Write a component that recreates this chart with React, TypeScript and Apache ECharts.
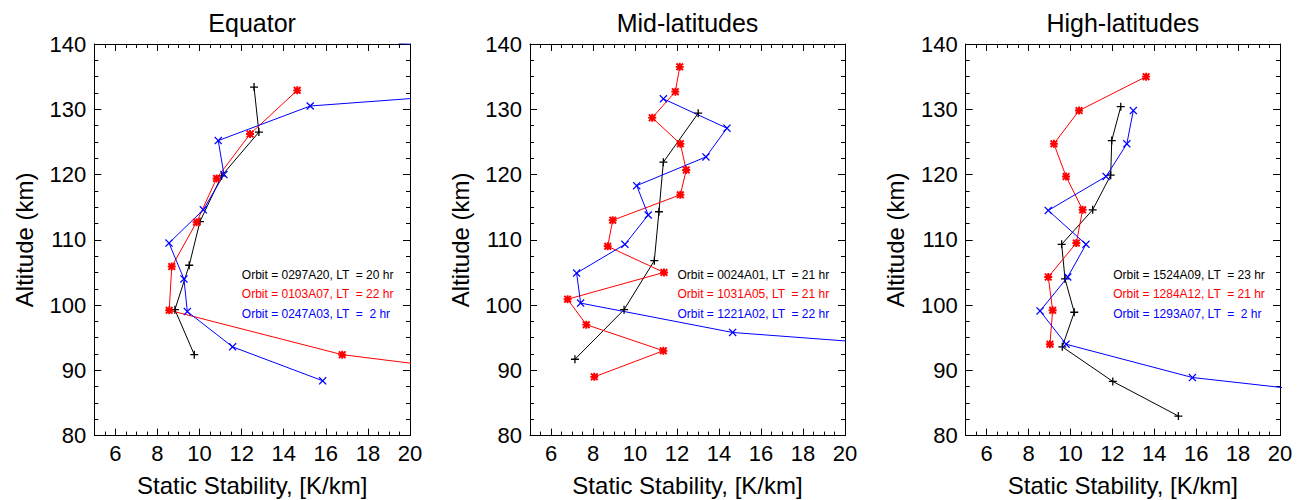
import React, { useEffect, useRef } from 'react';
import * as echarts from 'echarts';

const FONT = '"Liberation Sans", Arial, Helvetica, sans-serif';

// ---- text / ticks ----
const panelTitles = ['Equator', 'Mid-latitudes', 'High-latitudes'];
const xAxisTitle = 'Static Stability, [K/km]';
const yAxisTitle = 'Altitude (km)';
const xTickLabels = [6, 8, 10, 12, 14, 16, 18, 20];
const xRange = [5, 20];
const yRange = [80, 140];
const yStep = 10;

// ---- legend labels ----
const eqLabels = ['Orbit = 0297A20, LT  = 20 hr', 'Orbit = 0103A07, LT  = 22 hr', 'Orbit = 0247A03, LT  =  2 hr'];
const midLabels = ['Orbit = 0024A01, LT  = 21 hr', 'Orbit = 1031A05, LT  = 21 hr', 'Orbit = 1221A02, LT  = 22 hr'];
const hiLabels = ['Orbit = 1524A09, LT  = 23 hr', 'Orbit = 1284A12, LT  = 21 hr', 'Orbit = 1293A07, LT  =  2 hr'];

// ---- data: [static stability K/km, altitude km] ----
const eqBlack = [[12.59, 133.4], [12.82, 126.5], [11.05, 119.8], [10.02, 112.8], [9.51, 106.1], [8.83, 99.3], [9.75, 92.4]];
const eqRed = [[14.64, 132.9], [12.4, 126.2], [10.81, 119.4], [9.86, 112.7], [8.68, 105.9], [8.56, 99.2], [16.78, 92.4], [24.0, 89.5]];
const eqBlue = [[19.45, 140.1], [40.0, 136.4], [15.26, 130.5], [10.89, 125.2], [11.16, 120.0], [10.18, 114.6], [8.55, 109.5], [9.26, 104.0], [9.42, 99.0], [11.57, 93.6], [15.85, 88.4]];

const midBlack = [[13.01, 129.4], [11.35, 121.9], [11.14, 114.3], [10.92, 106.8], [9.48, 99.3], [7.14, 91.7]];
const midRed = [[12.13, 136.5], [11.92, 132.7], [10.82, 128.7], [12.16, 124.7], [12.44, 120.7], [12.16, 116.9], [8.94, 113.0], [8.7, 109.0], [11.38, 105.0], [6.79, 100.9], [7.68, 97.0], [11.35, 93.0], [8.06, 89.0]];
const midBlue = [[11.35, 131.6], [14.38, 127.1], [13.38, 122.7], [10.08, 118.3], [10.63, 113.8], [9.52, 109.3], [7.22, 104.9], [7.41, 100.3], [14.65, 95.8], [25.0, 93.3]];

const hiBlack = [[12.4, 130.4], [11.97, 125.2], [11.92, 119.9], [11.06, 114.6], [9.58, 109.3], [9.74, 104.0], [10.18, 98.9], [9.61, 93.6], [12.02, 88.3], [15.15, 83.0]];
const hiRed = [[13.61, 135.0], [10.41, 129.8], [9.21, 124.7], [9.79, 119.7], [10.58, 114.6], [10.28, 109.5], [8.94, 104.3], [9.15, 99.2], [9.02, 94.0]];
const hiBlue = [[13.0, 129.8], [12.69, 124.7], [11.7, 119.7], [8.94, 114.5], [10.74, 109.3], [9.87, 104.3], [8.55, 99.1], [9.79, 94.0], [15.82, 88.9], [25.0, 85.6]];

const panels = [
  { black: eqBlack, red: eqRed, blue: eqBlue, labels: eqLabels },
  { black: midBlack, red: midRed, blue: midBlue, labels: midLabels },
  { black: hiBlack, red: hiRed, blue: hiBlue, labels: hiLabels },
];

// ---- layout ----
const gridLefts = [94.3, 530, 965.7];
const gridWidths = [315.7, 315, 314.3];
const gridTop = 44;
const gridHeight = 391.6;

const COLORS = { black: '#000000', red: '#ff0000', blue: '#0000ff' };

const PLUS = 'path://M4.2,0H5.8V4.2H10V5.8H5.8V10H4.2V5.8H0V4.2H4.2Z';
const CROSS = 'path://M0,1.1L1.1,0L5,3.9L8.9,0L10,1.1L6.1,5L10,8.9L8.9,10L5,6.1L1.1,10L0,8.9L3.9,5Z';
const STAR = 'path://M3.8,0H6.2V3.8H10V6.2H6.2V10H3.8V6.2H0V3.8H3.8Z M0,1.7L1.7,0L5,3.3L8.3,0L10,1.7L6.7,5L10,8.3L8.3,10L5,6.7L1.7,10L0,8.3L3.3,5Z';

const halfTicks: number[] = [];
for (let v = xRange[0]; v <= xRange[1] + 1e-9; v += 0.5) halfTicks.push(v);

const inFrame = (x: number, y: number) => x >= xRange[0] && x <= xRange[1] && y >= yRange[0] && y <= yRange[1];

function buildOption() {
  const axisLine = { show: true, onZero: false, lineStyle: { color: '#000', width: 1 } };
  const tickStyle = { color: '#000', width: 1 };
  const grid: any[] = [];
  const xAxis: any[] = [];
  const yAxis: any[] = [];
  const series: any[] = [];
  const graphic: any[] = [];

  panels.forEach((p, i) => {
    grid.push({ left: gridLefts[i], top: gridTop, width: gridWidths[i], height: gridHeight, containLabel: false, outerBoundsMode: 'none' });
    const xb = { type: 'value', gridIndex: i, min: xRange[0], max: xRange[1], splitLine: { show: false } };
    xAxis.push({
      ...xb, position: 'bottom', axisLine,
      axisTick: { show: true, inside: true, length: 4, customValues: halfTicks, lineStyle: tickStyle },
      axisLabel: { show: true, customValues: xTickLabels, fontSize: 22, color: '#000', fontFamily: FONT, margin: 7, hideOverlap: false },
      name: xAxisTitle, nameLocation: 'middle', nameGap: 38, nameMoveOverlap: false,
      nameTextStyle: { fontSize: 24, color: '#000', fontFamily: FONT },
    });
    xAxis.push({
      ...xb, position: 'bottom', axisLine: { show: false, onZero: false },
      axisTick: { show: true, inside: true, length: 7, customValues: xTickLabels, lineStyle: tickStyle },
      axisLabel: { show: false },
    });
    xAxis.push({
      ...xb, position: 'top', axisLine,
      axisTick: { show: true, inside: true, length: 4, customValues: halfTicks, lineStyle: tickStyle },
      axisLabel: { show: false },
    });
    xAxis.push({
      ...xb, position: 'top', axisLine: { show: false, onZero: false },
      axisTick: { show: true, inside: true, length: 7, customValues: xTickLabels, lineStyle: tickStyle },
      axisLabel: { show: false },
    });
    const yb = { type: 'value', gridIndex: i, min: yRange[0], max: yRange[1], interval: yStep, splitLine: { show: false } };
    yAxis.push({
      ...yb, position: 'left', axisLine,
      axisTick: { show: true, inside: true, length: 7, lineStyle: tickStyle },
      minorTick: { show: true, splitNumber: 4, length: 4, lineStyle: tickStyle },
      axisLabel: { show: true, fontSize: 22, color: '#000', fontFamily: FONT, margin: 8, hideOverlap: false },
      name: yAxisTitle, nameLocation: 'middle', nameGap: 58, nameRotate: 90, nameMoveOverlap: false,
      nameTextStyle: { fontSize: 24, color: '#000', fontFamily: FONT },
    });
    yAxis.push({
      ...yb, position: 'right', axisLine,
      axisTick: { show: true, inside: true, length: 7, lineStyle: tickStyle },
      minorTick: { show: true, splitNumber: 4, length: 4, lineStyle: tickStyle },
      axisLabel: { show: false },
    });

    const mk = (data: number[][], color: string, symbol: string, size: number, name: string) => ({
      type: 'line', name, xAxisIndex: i * 4, yAxisIndex: i * 2, clip: true,
      data: data.map(([x, y]) => ({ value: [x, y], symbol: inFrame(x, y) ? symbol : 'none' })),
      symbol, symbolSize: size, showAllSymbol: true,
      lineStyle: { color, width: 1 }, itemStyle: { color, borderWidth: 0 },
      emphasis: { disabled: true }, z: 3,
    });
    series.push(mk(p.black, COLORS.black, PLUS, 8, 'black' + i));
    series.push(mk(p.red, COLORS.red, STAR, 8, 'red' + i));
    series.push(mk(p.blue, COLORS.blue, CROSS, 8, 'blue' + i));

    const cx = gridLefts[i] + gridWidths[i] / 2;
    graphic.push({
      type: 'text', x: cx, y: 22.5,
      style: { text: panelTitles[i], fill: '#000', fontSize: 25, fontFamily: FONT, align: 'center', verticalAlign: 'middle' },
    });
    const lc = [COLORS.black, COLORS.red, COLORS.blue];
    const ly = [274.5, 294, 313.5];
    p.labels.forEach((t, k) => {
      graphic.push({
        type: 'text', x: gridLefts[i] + 147.5, y: ly[k],
        style: { text: t, fill: lc[k], fontSize: 12, fontFamily: FONT, align: 'left', verticalAlign: 'middle' },
      });
    });
  });

  return {
    animation: false,
    backgroundColor: '#ffffff',
    textStyle: { fontFamily: FONT },
    grid, xAxis, yAxis, series, graphic,
  };
}

export default function App() {
  const ref = useRef<HTMLDivElement>(null);
  useEffect(() => {
    document.body.style.margin = '0';
    if (!ref.current) return;
    const chart = echarts.init(ref.current, undefined, { renderer: 'svg' });
    chart.setOption(buildOption() as any);
    return () => chart.dispose();
  }, []);
  return <div ref={ref} style={{ width: 1303, height: 500 }} />;
}
